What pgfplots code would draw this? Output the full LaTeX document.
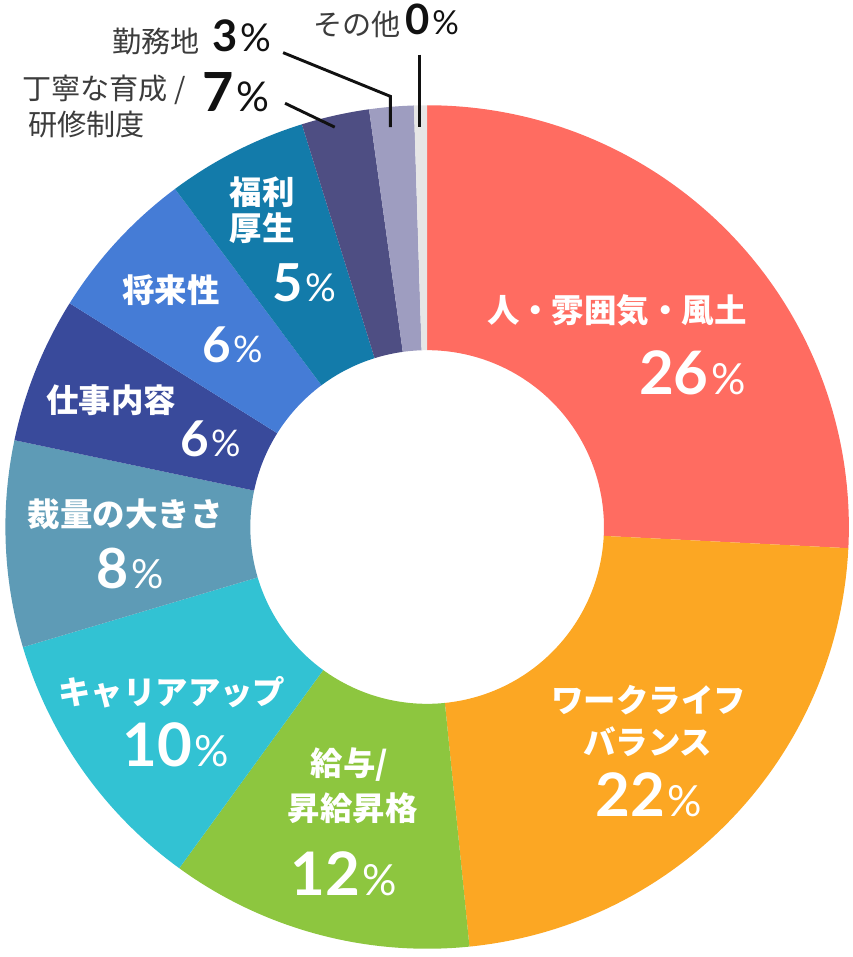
\documentclass[border=0pt]{standalone}
\usepackage{pgfplots}
\pgfplotsset{compat=1.18}
\usepackage{pgfplotstable}
\usepackage{fontspec}
\setmainfont{Noto Sans CJK JP}
\newfontfamily\lato{Lato}

% slice boundaries, in percent, clockwise from 12 o'clock
\pgfplotstableread{
cx  cy    start pct  cls
425 426.5 0.0   25.8 a
425 426.5 25.8  22.6 b
425 426.5 48.4  11.6 c
425 426.5 60.0  10.4 d
425 426.5 70.4  7.9  e
425 426.5 78.3  5.6  f
425 426.5 83.9  5.9  g
425 426.5 89.8  5.4  h
425 426.5 95.2  2.6  i
425 426.5 97.8  1.7  j
425 426.5 99.5  0.5  k
}\slices

% annular sector drawn as the marker of each row
\pgfdeclareplotmark{ring}{%
  \pgfmathsetmacro\aS{90-3.6*\vs}%
  \pgfmathsetmacro\aE{90-3.6*(\vs+\vp)}%
  \pgfpathmoveto{\pgfpointpolar{\aS}{318.4pt}}%
  \pgfpatharc{\aS}{\aE}{318.4pt}%
  \pgfpathlineto{\pgfpointpolar{\aE}{133.5pt}}%
  \pgfpatharc{\aE}{\aS}{133.5pt}%
  \pgfpathclose
  \pgfusepathqfill
}

\definecolor{cRed}{RGB}{255,108,97}
\definecolor{cOrange}{RGB}{252,167,35}
\definecolor{cGreen}{RGB}{141,198,63}
\definecolor{cCyan}{RGB}{50,194,211}
\definecolor{cSteel}{RGB}{94,155,182}
\definecolor{cNavy}{RGB}{57,74,155}
\definecolor{cBlue}{RGB}{69,124,214}
\definecolor{cTeal}{RGB}{19,123,170}
\definecolor{cPurple}{RGB}{78,78,131}
\definecolor{cLav}{RGB}{158,157,192}
\definecolor{cGray}{RGB}{230,230,230}
\definecolor{txtgray}{HTML}{3C3C3C}
\definecolor{txtblack}{HTML}{111111}

% digits + smaller percent sign
\newcommand\pc[3]{{\lato\bfseries\fontsize{#2}{#2}\selectfont #1}\hspace{2pt}{\lato\fontsize{#3}{#3}\selectfont\%}}

\tikzset{
    wl/.style={white, inner sep=0pt, anchor=center,
        font=\bfseries\fontsize{24.5}{30}\selectfont},
    ol/.style={txtgray, inner sep=0pt, anchor=west,
        font=\fontsize{22}{26}\selectfont},
    wn/.style={white, inner sep=0pt, anchor=base},
    bn/.style={txtblack, inner sep=0pt, anchor=base west},
}

\begin{document}
\begin{tikzpicture}
\begin{axis}[
    x=0.75pt, y=0.75pt,
    xmin=0, xmax=851, ymin=0, ymax=957,
    hide axis, clip=false, set layers,
]
\addplot[
    scatter, only marks, mark=ring,
    scatter src=explicit symbolic,
    scatter/classes={
        a={mark=ring,fill=cRed,draw=none}, b={mark=ring,fill=cOrange,draw=none},
        c={mark=ring,fill=cGreen,draw=none}, d={mark=ring,fill=cCyan,draw=none},
        e={mark=ring,fill=cSteel,draw=none}, f={mark=ring,fill=cNavy,draw=none},
        g={mark=ring,fill=cBlue,draw=none}, h={mark=ring,fill=cTeal,draw=none},
        i={mark=ring,fill=cPurple,draw=none}, j={mark=ring,fill=cLav,draw=none},
        k={mark=ring,fill=cGray,draw=none}},
    visualization depends on=\thisrow{start}\as\vs,
    visualization depends on=\thisrow{pct}\as\vp,
] table[x=cx, y=cy, meta=cls] {\slices};

\path (axis cs:0,0) rectangle (axis cs:851,957);

\begin{pgfonlayer}{axis foreground}
% labels inside the ring
\node[wl] at (axis cs:616,645) {人・雰囲気・風土};
\node[wn] at (axis cs:692,560) {\pc{26}{45.3}{32.4}};

\node[wl] at (axis cs:648,252) {ワークライフ};
\node[wl] at (axis cs:647,210) {バランス};
\node[wn] at (axis cs:648,135) {\pc{22}{45.3}{32.4}};

\node[wl] at (axis cs:347,187) {給与/};
\node[wl] at (axis cs:350,144) {昇給昇格};
\node[wn] at (axis cs:341,56) {\pc{12}{45.3}{32.4}};

\node[wl] at (axis cs:168,260) {キャリアアップ};
\node[wn] at (axis cs:172,185) {\pc{10}{45.3}{32.4}};

\node[wl] at (axis cs:121,439) {裁量の大きさ};
\node[wn] at (axis cs:126,365) {\pc{8}{41.8}{30.4}};

\node[wl] at (axis cs:107,554) {仕事内容};
\node[wn] at (axis cs:207,497) {\pc{6}{37.3}{27.7}};

\node[wl] at (axis cs:167,665) {将来性};
\node[wn] at (axis cs:229,592) {\pc{6}{37.3}{27.7}};

\node[wl] at (axis cs:259,764) {福利};
\node[wl] at (axis cs:259,727) {厚生};
\node[wn] at (axis cs:301,653) {\pc{5}{39.5}{29}};

% labels outside with leader lines
\node[ol] at (axis cs:17,867) {丁寧な育成 /};
\node[ol] at (axis cs:23,832) {研修制度};
\node[bn] at (axis cs:199,845) {\pc{7}{40.7}{31}};

\node[ol] at (axis cs:108,915) {勤務地};
\node[bn] at (axis cs:209,905) {\pc{3}{32.8}{29}};

\node[ol] at (axis cs:310,932) {その他};
\node[bn] at (axis cs:403,922) {\pc{0}{31.6}{25}};

\draw[txtblack, line width=2.2pt] (axis cs:280,904) -- (axis cs:388,860) -- (axis cs:388,829);
\draw[txtblack, line width=2.2pt] (axis cs:282,853) -- (axis cs:332,829);
\draw[txtblack, line width=2.2pt] (axis cs:417,902) -- (axis cs:417,829);
\end{pgfonlayer}
\end{axis}
\end{tikzpicture}
\end{document}
